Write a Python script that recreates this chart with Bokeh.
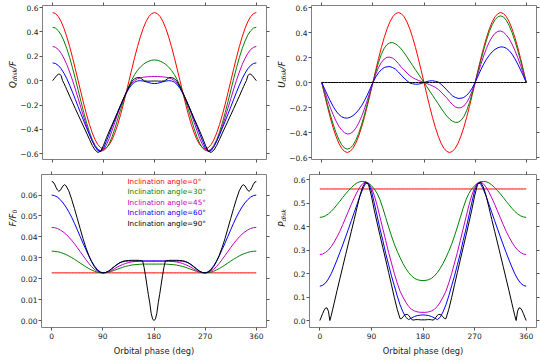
import math
from bokeh.plotting import figure
from bokeh.models import (Range1d, FixedTicker, LinearAxis, Label, CustomJSTickFormatter,
                          CustomLabelingPolicy)
from bokeh.layouts import row, column
from bokeh.embed import file_html
from bokeh.resources import INLINE

# ---------------- data ----------------
phase = list(range(0, 361, 5))
phase_k = [0, 2.5, 5, 7.5, 10, 12.5, 15, 17.5, 20, 22.5, 25, 30, 35, 40, 45, 50, 55, 60, 65, 70,
           75, 80, 85, 90, 95, 100, 105, 110, 115, 120, 125, 130, 135, 140, 142.5, 145, 147.5, 150,
           152.5, 155, 157.5, 160, 162.5, 165, 167.5, 170, 172.5, 175, 177.5, 180,
           182.5, 185, 187.5, 190, 192.5, 195, 197.5, 200, 202.5, 205, 207.5, 210, 212.5, 215, 217.5,
           220, 225, 230, 235, 240, 245, 250, 255, 260, 265, 270, 275, 280, 285, 290, 295, 300, 305,
           310, 315, 320, 325, 330, 335, 337.5, 340, 342.5, 345, 347.5, 350, 352.5, 355, 357.5, 360]

incl_labels = ["Inclination angle=0\u00b0", "Inclination angle=30\u00b0", "Inclination angle=45\u00b0",
               "Inclination angle=60\u00b0", "Inclination angle=90\u00b0"]

# Q_disk / F
Q_i0 = [0.560, 0.551, 0.526, 0.485, 0.429, 0.360, 0.280, 0.192, 0.097, 0.000, -0.097, -0.192, -0.280,
        -0.360, -0.429, -0.485, -0.526, -0.551, -0.560, -0.551, -0.526, -0.485, -0.429, -0.360, -0.280,
        -0.192, -0.097, 0.000, 0.097, 0.192, 0.280, 0.360, 0.429, 0.485, 0.526, 0.551, 0.560,
        0.551, 0.526, 0.485, 0.429, 0.360, 0.280, 0.192, 0.097, 0.000, -0.097, -0.192, -0.280, -0.360,
        -0.429, -0.485, -0.526, -0.551, -0.560, -0.551, -0.526, -0.485, -0.429, -0.360, -0.280, -0.192,
        -0.097, 0.000, 0.097, 0.192, 0.280, 0.360, 0.429, 0.485, 0.526, 0.551, 0.560]
Q_i30 = [0.439, 0.432, 0.410, 0.375, 0.325, 0.263, 0.190, 0.106, 0.017, -0.077, -0.171, -0.262, -0.346,
         -0.422, -0.484, -0.531, -0.563, -0.577, -0.574, -0.554, -0.516, -0.461, -0.392, -0.315, -0.239,
         -0.166, -0.100, -0.042, 0.008, 0.051, 0.085, 0.112, 0.133, 0.149, 0.160, 0.168, 0.170,
         0.168, 0.160, 0.149, 0.133, 0.112, 0.085, 0.051, 0.008, -0.042, -0.100, -0.166, -0.239, -0.315,
         -0.392, -0.461, -0.516, -0.554, -0.574, -0.577, -0.563, -0.531, -0.484, -0.422, -0.346, -0.262,
         -0.171, -0.077, 0.017, 0.106, 0.190, 0.263, 0.325, 0.375, 0.410, 0.432, 0.439]
Q_i45 = [0.281, 0.274, 0.256, 0.225, 0.183, 0.132, 0.071, 0.004, -0.069, -0.146, -0.223, -0.300, -0.373,
         -0.440, -0.497, -0.543, -0.572, -0.581, -0.565, -0.528, -0.475, -0.410, -0.342, -0.273, -0.207,
         -0.149, -0.096, -0.053, -0.021, 0.001, 0.016, 0.024, 0.028, 0.031, 0.033, 0.034, 0.035,
         0.034, 0.033, 0.031, 0.028, 0.024, 0.016, 0.001, -0.021, -0.053, -0.096, -0.149, -0.207, -0.273,
         -0.342, -0.410, -0.475, -0.528, -0.565, -0.581, -0.572, -0.543, -0.497, -0.440, -0.373, -0.300,
         -0.223, -0.146, -0.069, 0.004, 0.071, 0.132, 0.183, 0.225, 0.256, 0.274, 0.281]
Q_i60 = [0.146, 0.141, 0.125, 0.098, 0.061, 0.016, -0.037, -0.094, -0.153, -0.214, -0.273, -0.332, -0.389,
         -0.444, -0.496, -0.540, -0.575, -0.581, -0.552, -0.498, -0.438, -0.376, -0.318, -0.256, -0.201,
         -0.149, -0.104, -0.063, -0.032, -0.012, -0.002, 0.000, -0.003, -0.009, -0.016, -0.022, -0.024,
         -0.022, -0.016, -0.009, -0.003, 0.000, -0.002, -0.012, -0.032, -0.063, -0.104, -0.149, -0.201,
         -0.256, -0.318, -0.376, -0.438, -0.498, -0.552, -0.581, -0.575, -0.540, -0.496, -0.444, -0.389,
         -0.332, -0.273, -0.214, -0.153, -0.094, -0.037, 0.016, 0.061, 0.098, 0.125, 0.141, 0.146]
Q_i90 = [0.000, 0.015, 0.030, 0.044, 0.053, 0.054, 0.040, 0.000, -0.022, -0.048, -0.074,
         -0.127, -0.178, -0.229, -0.280, -0.330, -0.380, -0.430, -0.482, -0.532, -0.570, -0.590, -0.578,
         -0.530, -0.470, -0.415, -0.362, -0.310, -0.258, -0.205, -0.152, -0.098, -0.048,
         -0.008, 0.008, 0.016, 0.022, 0.026, 0.026, 0.022, 0.014, 0.005, -0.002, -0.003, -0.004, -0.004,
         -0.004, -0.003, -0.003, -0.003,
         -0.003, -0.003, -0.004, -0.004, -0.004, -0.003, -0.002, 0.005, 0.014, 0.022, 0.026, 0.026, 0.022,
         0.016, 0.008, -0.008, -0.048, -0.098, -0.152, -0.205, -0.258, -0.310, -0.362, -0.415, -0.470,
         -0.530, -0.578, -0.590, -0.570, -0.532, -0.482, -0.430, -0.380, -0.330, -0.280, -0.229, -0.178,
         -0.127, -0.074, -0.048, -0.022, 0.000, 0.040, 0.054, 0.053, 0.044, 0.030, 0.015, 0.000]

# U_disk / F
U_i0 = [0.000, -0.097, -0.192, -0.280, -0.360, -0.429, -0.485, -0.526, -0.551, -0.560, -0.551, -0.526,
        -0.485, -0.429, -0.360, -0.280, -0.192, -0.097, 0.000, 0.097, 0.192, 0.280, 0.360, 0.429, 0.485,
        0.526, 0.551, 0.560, 0.551, 0.526, 0.485, 0.429, 0.360, 0.280, 0.192, 0.097, 0.000,
        -0.097, -0.192, -0.280, -0.360, -0.429, -0.485, -0.526, -0.551, -0.560, -0.551, -0.526, -0.485,
        -0.429, -0.360, -0.280, -0.192, -0.097, 0.000, 0.097, 0.192, 0.280, 0.360, 0.429, 0.485, 0.526,
        0.551, 0.560, 0.551, 0.526, 0.485, 0.429, 0.360, 0.280, 0.192, 0.097, 0.000]
U_i30 = [0.000, -0.088, -0.174, -0.256, -0.332, -0.399, -0.455, -0.497, -0.524, -0.533, -0.526, -0.502,
         -0.462, -0.407, -0.339, -0.261, -0.176, -0.088, 0.000, 0.084, 0.161, 0.226, 0.274, 0.304, 0.318,
         0.319, 0.309, 0.292, 0.268, 0.238, 0.205, 0.170, 0.136, 0.102, 0.068, 0.034, 0.000,
         -0.034, -0.068, -0.102, -0.136, -0.170, -0.205, -0.238, -0.268, -0.292, -0.309, -0.319, -0.318,
         -0.304, -0.274, -0.226, -0.161, -0.084, 0.000, 0.088, 0.176, 0.261, 0.339, 0.407, 0.462, 0.502,
         0.526, 0.533, 0.524, 0.497, 0.455, 0.399, 0.332, 0.256, 0.174, 0.088, 0.000]
U_i45 = [0.000, -0.069, -0.136, -0.199, -0.256, -0.307, -0.349, -0.380, -0.402, -0.412, -0.409, -0.394,
         -0.365, -0.325, -0.274, -0.213, -0.145, -0.072, 0.000, 0.066, 0.120, 0.161, 0.188, 0.202, 0.203,
         0.195, 0.176, 0.151, 0.123, 0.100, 0.076, 0.055, 0.039, 0.027, 0.017, 0.009, 0.000,
         -0.009, -0.017, -0.027, -0.039, -0.055, -0.076, -0.100, -0.123, -0.151, -0.176, -0.195, -0.203,
         -0.202, -0.188, -0.161, -0.120, -0.066, 0.000, 0.072, 0.145, 0.213, 0.274, 0.325, 0.365, 0.394,
         0.409, 0.412, 0.402, 0.380, 0.349, 0.307, 0.256, 0.199, 0.136, 0.069, 0.000]
U_i60 = [0.000, -0.051, -0.100, -0.147, -0.190, -0.227, -0.255, -0.274, -0.283, -0.285, -0.278, -0.265,
         -0.245, -0.219, -0.187, -0.147, -0.102, -0.051, 0.000, 0.044, 0.078, 0.103, 0.120, 0.126, 0.127,
         0.119, 0.106, 0.084, 0.059, 0.035, 0.014, -0.004, -0.010, -0.014, -0.013, -0.008, 0.000,
         0.008, 0.013, 0.014, 0.010, 0.004, -0.014, -0.035, -0.059, -0.084, -0.106, -0.119, -0.127,
         -0.126, -0.120, -0.103, -0.078, -0.044, 0.000, 0.051, 0.102, 0.147, 0.187, 0.219, 0.245, 0.265,
         0.278, 0.285, 0.283, 0.274, 0.255, 0.227, 0.190, 0.147, 0.100, 0.051, 0.000]
U_i90 = [0.0] * len(phase)

# F / F0
F_i0 = [0.0228] * len(phase)
F_i30 = [0.0332, 0.0331, 0.0329, 0.0326, 0.0321, 0.0316, 0.0309, 0.0301, 0.0293, 0.0284, 0.0275, 0.0266,
         0.0257, 0.0249, 0.0242, 0.0236, 0.0231, 0.0229, 0.0228, 0.0229, 0.0231, 0.0235, 0.0240, 0.0245,
         0.0250, 0.0255, 0.0259, 0.0262, 0.0265, 0.0267, 0.0268, 0.0269, 0.0270, 0.0270, 0.0270, 0.0270,
         0.0270,
         0.0270, 0.0270, 0.0270, 0.0270, 0.0269, 0.0268, 0.0267, 0.0265, 0.0262, 0.0259, 0.0255, 0.0250,
         0.0245, 0.0240, 0.0235, 0.0231, 0.0229, 0.0228, 0.0229, 0.0231, 0.0236, 0.0242, 0.0249, 0.0257,
         0.0266, 0.0275, 0.0284, 0.0293, 0.0301, 0.0309, 0.0316, 0.0321, 0.0326, 0.0329, 0.0331, 0.0332]
F_i45 = [0.0445, 0.0444, 0.0440, 0.0433, 0.0424, 0.0413, 0.0399, 0.0384, 0.0367, 0.0349, 0.0330, 0.0311,
         0.0292, 0.0274, 0.0258, 0.0245, 0.0236, 0.0230, 0.0228, 0.0229, 0.0233, 0.0239, 0.0247, 0.0255,
         0.0262, 0.0268, 0.0273, 0.0277, 0.0280, 0.0282, 0.0283, 0.0284, 0.0284, 0.0284, 0.0284, 0.0284,
         0.0284,
         0.0284, 0.0284, 0.0284, 0.0284, 0.0284, 0.0283, 0.0282, 0.0280, 0.0277, 0.0273, 0.0268, 0.0262,
         0.0255, 0.0247, 0.0239, 0.0233, 0.0229, 0.0228, 0.0230, 0.0236, 0.0245, 0.0258, 0.0274, 0.0292,
         0.0311, 0.0330, 0.0349, 0.0367, 0.0384, 0.0399, 0.0413, 0.0424, 0.0433, 0.0440, 0.0444, 0.0445]
F_i60 = [0.0600, 0.0597, 0.0590, 0.0578, 0.0562, 0.0543, 0.0520, 0.0494, 0.0465, 0.0434, 0.0402, 0.0370,
         0.0340, 0.0310, 0.0284, 0.0262, 0.0245, 0.0233, 0.0228, 0.0230, 0.0237, 0.0247, 0.0258, 0.0268,
         0.0276, 0.0281, 0.0284, 0.0285, 0.0285, 0.0285, 0.0285, 0.0285, 0.0285, 0.0285, 0.0285, 0.0285,
         0.0285,
         0.0285, 0.0285, 0.0285, 0.0285, 0.0285, 0.0285, 0.0285, 0.0285, 0.0285, 0.0284, 0.0281, 0.0276,
         0.0268, 0.0258, 0.0247, 0.0237, 0.0230, 0.0228, 0.0233, 0.0245, 0.0262, 0.0284, 0.0310, 0.0340,
         0.0370, 0.0402, 0.0434, 0.0465, 0.0494, 0.0520, 0.0543, 0.0562, 0.0578, 0.0590, 0.0597, 0.0600]
F_i90 = [0.0665, 0.0662, 0.0652, 0.0637, 0.0624, 0.0618, 0.0622, 0.0633, 0.0644, 0.0649, 0.0645,
         0.0620, 0.0580, 0.0535, 0.0488, 0.0440, 0.0392, 0.0350, 0.0313, 0.0282, 0.0258, 0.0241, 0.0231,
         0.0228, 0.0230, 0.0236, 0.0246, 0.0257, 0.0268, 0.0277, 0.0283, 0.0286, 0.0287,
         0.0288, 0.0288, 0.0288, 0.0288, 0.0288, 0.0288, 0.0287, 0.0286, 0.0285, 0.0255, 0.0215, 0.0170,
         0.0125, 0.0085, 0.0035, 0.0008, 0.0000,
         0.0008, 0.0035, 0.0085, 0.0125, 0.0170, 0.0215, 0.0255, 0.0285, 0.0286, 0.0287, 0.0288, 0.0288,
         0.0288, 0.0288, 0.0288, 0.0288, 0.0287, 0.0286, 0.0283, 0.0277, 0.0268, 0.0257, 0.0246, 0.0236,
         0.0230, 0.0228, 0.0231, 0.0241, 0.0258, 0.0282, 0.0313, 0.0350, 0.0392, 0.0440, 0.0488, 0.0535,
         0.0580, 0.0620, 0.0645, 0.0649, 0.0644, 0.0633, 0.0622, 0.0618, 0.0624, 0.0637, 0.0652, 0.0662,
         0.0665]

# P_disk
P_i0 = [0.56] * len(phase)
P_i30 = [0.439, 0.441, 0.446, 0.454, 0.465, 0.478, 0.493, 0.508, 0.524, 0.539, 0.553, 0.566, 0.577,
         0.586, 0.591, 0.592, 0.590, 0.584, 0.574, 0.560, 0.541, 0.514, 0.478, 0.438, 0.398, 0.360,
         0.325, 0.295, 0.268, 0.243, 0.222, 0.204, 0.190, 0.180, 0.174, 0.171, 0.170,
         0.171, 0.174, 0.180, 0.190, 0.204, 0.222, 0.243, 0.268, 0.295, 0.325, 0.360, 0.398, 0.438,
         0.478, 0.514, 0.541, 0.560, 0.574, 0.584, 0.590, 0.592, 0.591, 0.586, 0.577, 0.566, 0.553,
         0.539, 0.524, 0.508, 0.493, 0.478, 0.465, 0.454, 0.446, 0.441, 0.439]
P_i45 = [0.281, 0.283, 0.290, 0.300, 0.315, 0.334, 0.356, 0.380, 0.408, 0.437, 0.466, 0.495, 0.522,
         0.547, 0.568, 0.583, 0.590, 0.585, 0.565, 0.532, 0.490, 0.440, 0.390, 0.340, 0.290, 0.245,
         0.200, 0.160, 0.125, 0.100, 0.078, 0.060, 0.048, 0.041, 0.037, 0.035, 0.035,
         0.035, 0.037, 0.041, 0.048, 0.060, 0.078, 0.100, 0.125, 0.160, 0.200, 0.245, 0.290, 0.340,
         0.390, 0.440, 0.490, 0.532, 0.565, 0.585, 0.590, 0.583, 0.568, 0.547, 0.522, 0.495, 0.466,
         0.437, 0.408, 0.380, 0.356, 0.334, 0.315, 0.300, 0.290, 0.283, 0.281]
P_i60 = [0.146, 0.150, 0.160, 0.177, 0.200, 0.228, 0.258, 0.290, 0.322, 0.356, 0.390, 0.425, 0.460,
         0.495, 0.530, 0.560, 0.584, 0.583, 0.552, 0.500, 0.445, 0.390, 0.340, 0.285, 0.238, 0.190,
         0.148, 0.105, 0.067, 0.037, 0.014, 0.004, 0.011, 0.017, 0.021, 0.023, 0.024,
         0.023, 0.021, 0.017, 0.011, 0.004, 0.014, 0.037, 0.067, 0.105, 0.148, 0.190, 0.238, 0.285,
         0.340, 0.390, 0.445, 0.500, 0.552, 0.583, 0.584, 0.560, 0.530, 0.495, 0.460, 0.425, 0.390,
         0.356, 0.322, 0.290, 0.258, 0.228, 0.200, 0.177, 0.160, 0.150, 0.146]
P_i90 = [0.000, 0.015, 0.030, 0.044, 0.053, 0.054, 0.040, 0.000, 0.022, 0.048, 0.074,
         0.127, 0.178, 0.229, 0.280, 0.330, 0.380, 0.430, 0.482, 0.532, 0.570, 0.590, 0.578,
         0.530, 0.470, 0.415, 0.362, 0.310, 0.258, 0.205, 0.152, 0.098, 0.048,
         0.008, 0.008, 0.016, 0.022, 0.026, 0.026, 0.022, 0.014, 0.005, 0.002, 0.003, 0.004, 0.004,
         0.004, 0.003, 0.003, 0.003,
         0.003, 0.003, 0.004, 0.004, 0.004, 0.003, 0.002, 0.005, 0.014, 0.022, 0.026, 0.026, 0.022,
         0.016, 0.008, 0.008, 0.048, 0.098, 0.152, 0.205, 0.258, 0.310, 0.362, 0.415, 0.470, 0.530,
         0.578, 0.590, 0.570, 0.532, 0.482, 0.430, 0.380, 0.330, 0.280, 0.229, 0.178, 0.127, 0.074,
         0.048, 0.022, 0.000, 0.040, 0.054, 0.053, 0.044, 0.030, 0.015, 0.000]

for arr in (Q_i0, Q_i30, Q_i45, Q_i60, U_i0, U_i30, U_i45, U_i60, F_i30, F_i45, F_i60,
            P_i30, P_i45, P_i60):
    assert len(arr) == len(phase), len(arr)
for arr in (Q_i90, F_i90, P_i90):
    assert len(arr) == len(phase_k), len(arr)

colors = ["#ff0000", "#008000", "#bf00bf", "#0000ff", "#000000"]
x_ticks = [0, 90, 180, 270, 360]

# ---------------- styling helpers ----------------
TOP_H, BOT_H = 167, 193
LAB_W1, LAB_W2 = 17, 16
W1, W2 = 270 - LAB_W1, 270 - LAB_W2


def base(w, h, yr, bl, br, bt, bb):
    p = figure(width=w, height=h, x_range=Range1d(-18, 378), y_range=Range1d(*yr),
               output_backend="svg", toolbar_location=None,
               min_border_left=bl, min_border_right=br, min_border_top=bt, min_border_bottom=bb)
    p.xgrid.visible = False
    p.ygrid.visible = False
    p.outline_line_color = "#808080"
    p.outline_line_width = 1
    p.background_fill_color = "white"
    p.border_fill_color = "white"
    return p


def style_axis(ax, ticks, show, fmt=None, standoff=2):
    ax.ticker = FixedTicker(ticks=ticks)
    ax.axis_line_color = None
    ax.major_tick_line_color = "#555555"
    ax.major_tick_line_width = 1
    ax.major_tick_in = 0
    ax.major_tick_out = 3
    ax.minor_tick_line_color = None
    ax.major_label_text_font = "DejaVu Sans"
    if show:
        ax.major_label_text_font_size = "7.5px"
        ax.major_label_text_color = "#1a1a1a"
        ax.major_label_standoff = standoff
        if fmt is not None:
            ax.formatter = fmt
    else:
        ax.major_label_text_font_size = "0px"
        ax.major_label_standoff = 0
        ax.major_label_policy = CustomLabelingPolicy(
            code="for (const i of indices) indices.unset(i)")


def frame_axes(p, yticks, show_x, yfmt):
    bottom = p.xaxis[0]
    left = p.yaxis[0]
    style_axis(bottom, x_ticks, show_x)
    style_axis(left, yticks, True, yfmt, standoff=1)
    top = LinearAxis()
    style_axis(top, x_ticks, False)
    p.add_layout(top, "above")
    right = LinearAxis()
    style_axis(right, yticks, False)
    p.add_layout(right, "right")
    if show_x:
        bottom.axis_label = "Orbital phase (deg)"
        bottom.axis_label_text_font = "DejaVu Sans"
        bottom.axis_label_text_font_size = "8.3px"
        bottom.axis_label_text_font_style = "normal"
        bottom.axis_label_text_color = "#1a1a1a"
        bottom.axis_label_standoff = 4


EM = {'Q': .787, 'U': .732, 'F': .575, 'P': .603, '/': .337, 'd': .635, 'i': .278,
      's': .521, 'k': .579, '0': .636}


def label_fig(w, h, parts, center_from_bottom, x):
    f = figure(width=w, height=h, output_backend="svg", toolbar_location=None,
               x_axis_location=None, y_axis_location=None, min_border=0,
               x_range=Range1d(0, 1), y_range=Range1d(0, 1))
    f.outline_line_color = None
    f.xgrid.visible = False
    f.ygrid.visible = False
    f.background_fill_color = "white"
    f.border_fill_color = "white"
    widths = [sum(EM[c] for c in t) * s for t, s, sub, st in parts]
    a = center_from_bottom - sum(widths) / 2
    for (t, s, sub, st), wd in zip(parts, widths):
        f.add_layout(Label(x=x + (1.5 if sub else 0), y=a, x_units="screen", y_units="screen",
                           text=t, angle=math.pi / 2, text_font="DejaVu Sans",
                           text_font_size=f"{s}px", text_font_style=st, text_align="left",
                           text_baseline="alphabetic", text_color="#111111"))
        a += wd
    return f


def fmt(n):
    return CustomJSTickFormatter(code="return tick.toFixed(%d).replace('-', '\u2212');" % n)


S, s = 8.7, 6.1

# ---------------- panels ----------------
p1 = base(W1, TOP_H, (-0.6475, 0.6175), 23, 4, 5, 8)
frame_axes(p1, [-0.6, -0.4, -0.2, 0.0, 0.2, 0.4, 0.6], False, fmt(1))
for y, c in zip([Q_i0, Q_i30, Q_i45, Q_i60], colors[:4]):
    p1.line(phase, y, line_color=c, line_width=1)
p1.line(phase_k, Q_i90, line_color=colors[4], line_width=1)
l1 = label_fig(LAB_W1, TOP_H, [("Q", S, False, "italic"), ("disk", s, True, "italic"),
                               ("/F", S, False, "italic")], TOP_H - 82, 12.5)

p2 = base(W2, TOP_H, (-0.616, 0.616), 23, 4, 5, 8)
frame_axes(p2, [-0.6, -0.4, -0.2, 0.0, 0.2, 0.4, 0.6], False, fmt(1))
for y, c in zip([U_i0, U_i30, U_i45, U_i60, U_i90], colors):
    p2.line(phase, y, line_color=c, line_width=1)
l2 = label_fig(LAB_W2, TOP_H, [("U", S, False, "italic"), ("disk", s, True, "italic"),
                               ("/F", S, False, "italic")], TOP_H - 82, 11.5)

p3 = base(W1, BOT_H, (-0.0033, 0.0698), 23, 4, 7, 33)
frame_axes(p3, [0.0, 0.01, 0.02, 0.03, 0.04, 0.05, 0.06], True, fmt(2))
for y, c in zip([F_i0, F_i30, F_i45, F_i60], colors[:4]):
    p3.line(phase, y, line_color=c, line_width=1)
p3.line(phase_k, F_i90, line_color=colors[4], line_width=1)
FH = BOT_H - 40
for k, (t, c) in enumerate(zip(incl_labels, colors)):
    p3.add_layout(Label(x=86, y=FH - 7 - 10.4 * k, x_units="screen", y_units="screen",
                        text=t, text_color=c, text_font="DejaVu Sans", text_font_size="7.2px",
                        text_baseline="middle", text_align="left"))
l3 = label_fig(LAB_W1, BOT_H, [("F/F", S, False, "italic"), ("0", s, True, "normal")],
               BOT_H - (250.5 - TOP_H), 12.5)

p4 = base(W2, BOT_H, (-0.0296, 0.6216), 23, 4, 7, 33)
frame_axes(p4, [0.0, 0.1, 0.2, 0.3, 0.4, 0.5, 0.6], True, fmt(1))
for y, c in zip([P_i0, P_i30, P_i45, P_i60], colors[:4]):
    p4.line(phase, y, line_color=c, line_width=1)
p4.line(phase_k, P_i90, line_color=colors[4], line_width=1)
l4 = label_fig(LAB_W2, BOT_H, [("P", S, False, "italic"), ("disk", s, True, "italic")],
               BOT_H - (250.5 - TOP_H), 11.5)

layout = column(row(l1, p1, l2, p2), row(l3, p3, l4, p4))
open("out.html", "w").write(file_html(layout, INLINE))
